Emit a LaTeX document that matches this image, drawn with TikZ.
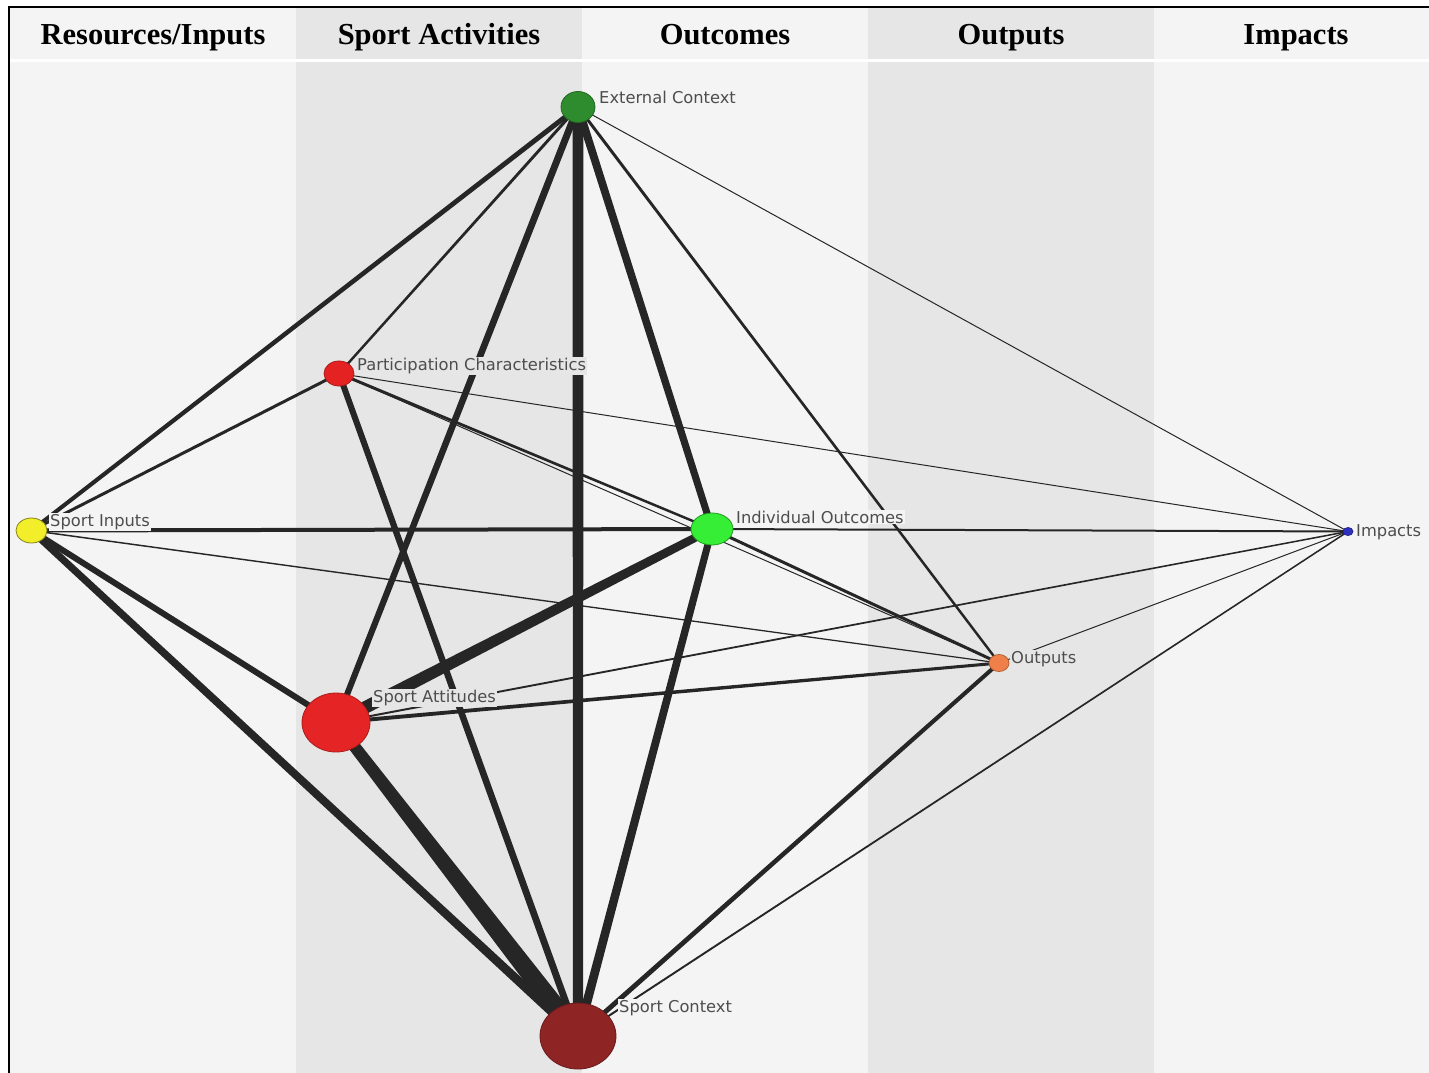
\documentclass[tikz,border=0pt]{standalone}
\usepackage{fontspec}
\setmainfont{Liberation Serif}
\newfontfamily\lblfont{DejaVu Sans}
\usetikzlibrary{calc,shapes.geometric}
\pgfdeclarelayer{bands}
\pgfdeclarelayer{links}
\pgfsetlayers{bands,links,main}
\definecolor{bandlight}{HTML}{F4F4F4}
\definecolor{banddark}{HTML}{E6E6E6}
\definecolor{linkc}{HTML}{262626}
\definecolor{lbltext}{HTML}{4D4D4D}
\definecolor{extc}{HTML}{2E8B2E}
\definecolor{partc}{HTML}{E52222}
\definecolor{inpc}{HTML}{F2EE2A}
\definecolor{indc}{HTML}{35EE35}
\definecolor{impc}{HTML}{3030C0}
\definecolor{outc}{HTML}{F0804A}
\definecolor{attc}{HTML}{E52525}
\definecolor{ctxc}{HTML}{8E2424}
\tikzset{
  vertex/.style={ellipse, inner sep=0pt, line width=0.8pt},
  lbl/.style={anchor=west, font=\lblfont\fontsize{16.3}{18}\selectfont, text=lbltext, inner sep=1pt},
  head/.style={anchor=base, font=\bfseries\fontsize{30.5}{34}\selectfont, text=black},
}
% tapered link: from, to, half width at start, half width at end
\newcommand\wlink[4]{\fill[linkc] ($(#1.center)!#3!90:(#2.center)$) -- ($(#2.center)!#4!-90:(#1.center)$) -- ($(#2.center)!#4!90:(#1.center)$) -- ($(#1.center)!#3!-90:(#2.center)$) -- cycle;}
\begin{document}
\begin{tikzpicture}[x=1pt,y=-1pt]
\useasboundingbox (0,0) rectangle (1429,1073);
\begin{pgfonlayer}{bands}
\fill[white] (0,0) rectangle (1429,1073);
\fill[bandlight] (9,7) rectangle (296,1073);
\fill[banddark] (296,7) rectangle (582,1073);
\fill[bandlight] (582,7) rectangle (868,1073);
\fill[banddark] (868,7) rectangle (1154,1073);
\fill[bandlight] (1154,7) rectangle (1429,1073);
\fill[white] (9,59.5) rectangle (1429,62.5);
\draw[line width=2pt] (9,1073) -- (9,7) -- (1429,7);
\node[head] (h1) at (153,45) {Resources/Inputs};
\node[head] (h2) at (439,45) {Sport Activities};
\node[head] (h3) at (725,45) {Outcomes};
\node[head] (h4) at (1011,45) {Outputs};
\node[head] (h5) at (1296,45) {Impacts};
\end{pgfonlayer}

% vertices
\node[vertex, fill=extc, draw=extc!75!black, minimum width=34pt, minimum height=31pt] (ec) at (578,107) {};
\node[vertex, fill=partc, draw=partc!75!black, minimum width=30pt, minimum height=25pt] (pc) at (339,373.5) {};
\node[vertex, fill=inpc, draw=inpc!55!black, minimum width=31pt, minimum height=25pt] (si) at (31.5,530.5) {};
\node[vertex, fill=indc, draw=indc!65!black, minimum width=42pt, minimum height=32pt] (io) at (712,529) {};
\node[vertex, fill=impc, draw=impc!75!black, minimum width=10pt, minimum height=8pt] (imp) at (1348,531.5) {};
\node[vertex, fill=outc, draw=outc!75!black, minimum width=20pt, minimum height=17pt] (out) at (999,663) {};
\node[vertex, fill=attc, draw=attc!75!black, minimum width=68pt, minimum height=59pt] (sa) at (336,722.5) {};
\node[vertex, fill=ctxc, draw=ctxc!75!black, minimum width=76pt, minimum height=66pt] (sc) at (578,1036) {};

% labels
\node[lbl, fill=bandlight] (ecl) at (598,97) {External Context};
\node[lbl, fill=banddark] (pcl) at (356,366) {Participation Characteristics};
\node[lbl, fill=bandlight] (sil) at (49,522) {Sport Inputs};
\node[lbl, fill=bandlight] (iol) at (735,517) {Individual Outcomes};
\node[lbl, fill=bandlight] (impl) at (1355,532) {Impacts};
\node[lbl, fill=banddark] (outl) at (1010,659) {Outputs};
\node[lbl, fill=banddark] (sal) at (372,698) {Sport Attitudes};
\node[lbl, fill=bandlight] (scl) at (618,1008) {Sport Context};

\begin{pgfonlayer}{links}
% from External Context
\wlink{ec}{si}{2.5pt}{2pt}
\wlink{ec}{pc}{1.5pt}{1.2pt}
\wlink{ec}{sa}{3.5pt}{3pt}
\wlink{ec}{sc}{5.5pt}{5pt}
\wlink{ec}{io}{4pt}{3.5pt}
\wlink{ec}{out}{1.5pt}{1.2pt}
\wlink{ec}{imp}{0.5pt}{0.5pt}
% from Participation Characteristics
\wlink{pc}{si}{1.5pt}{1.5pt}
\wlink{pc}{sc}{3pt}{3.5pt}
\wlink{pc}{io}{1.5pt}{1.2pt}
\wlink{pc}{out}{0.5pt}{0.5pt}
\wlink{pc}{imp}{0.5pt}{0.5pt}
% from Sport Inputs
\wlink{si}{io}{2pt}{2pt}
\wlink{si}{out}{0.75pt}{0.6pt}
\wlink{si}{sa}{3pt}{3pt}
\wlink{si}{sc}{3.5pt}{4.5pt}
% from Individual Outcomes
\wlink{io}{imp}{1pt}{1pt}
\wlink{io}{sa}{4pt}{6.5pt}
\wlink{io}{sc}{3.5pt}{4.5pt}
\wlink{io}{out}{1.5pt}{1.5pt}
% from Sport Attitudes
\wlink{sa}{out}{2pt}{1.5pt}
\wlink{sa}{imp}{1pt}{0.75pt}
\wlink{sa}{sc}{5.5pt}{10pt}
% remaining
\wlink{out}{imp}{0.5pt}{0.5pt}
\wlink{out}{sc}{2pt}{2.5pt}
\wlink{sc}{imp}{1pt}{0.75pt}
\end{pgfonlayer}
\end{tikzpicture}
\end{document}
